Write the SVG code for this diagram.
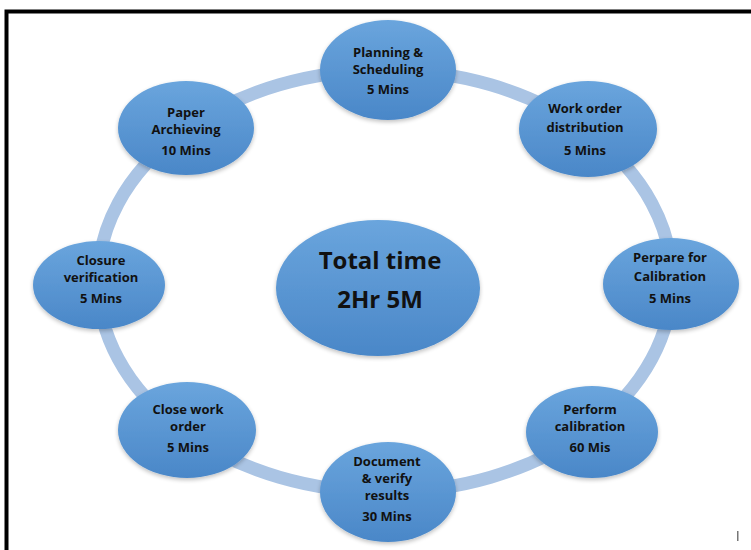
<svg xmlns="http://www.w3.org/2000/svg" width="751" height="550" viewBox="0 0 751 550">
<defs>
<linearGradient id="g" x1="0" y1="0" x2="0" y2="1">
<stop offset="0" stop-color="#6aa5dd"/>
<stop offset="1" stop-color="#4a87c8"/>
</linearGradient>
<filter id="sh" x="-20%" y="-20%" width="140%" height="150%">
<feGaussianBlur in="SourceAlpha" stdDeviation="2"/>
<feOffset dy="2"/>
<feComponentTransfer><feFuncA type="linear" slope="0.25"/></feComponentTransfer>
<feMerge><feMergeNode/><feMergeNode in="SourceGraphic"/></feMerge>
</filter>
</defs>
<style>
.n{fill:url(#g);filter:url(#sh)}
.t{font-family:"Open Sans","Liberation Sans",sans-serif;font-weight:bold;font-size:13px;fill:#111;text-anchor:middle}
.c{font-size:24px}
.ring{fill:none;stroke:#aac4e4;stroke-width:13}
</style>
<rect width="751" height="550" fill="#fff"/>
<path d="M6.5 550 V11.5 H751" fill="none" stroke="#000" stroke-width="4"/>
<g id="connectors">
<ellipse class="ring" cx="385" cy="281" rx="287" ry="211"/>
</g>
<g id="planning">
<ellipse class="n" cx="388" cy="70" rx="68" ry="50"/>
<text class="t" x="388" y="57">Planning &amp;</text>
<text class="t" x="388" y="74">Scheduling</text>
<text class="t" x="388" y="94">5 Mins</text>
</g>
<g id="workorder">
<ellipse class="n" cx="588" cy="129" rx="69" ry="48"/>
<text class="t" x="585" y="113">Work order</text>
<text class="t" x="585" y="132">distribution</text>
<text class="t" x="585" y="155">5 Mins</text>
</g>
<g id="prepare">
<ellipse class="n" cx="671" cy="284" rx="68" ry="46"/>
<text class="t" x="670" y="262">Perpare for</text>
<text class="t" x="670" y="281">Calibration</text>
<text class="t" x="670" y="303">5 Mins</text>
</g>
<g id="perform">
<ellipse class="n" cx="592" cy="432" rx="66" ry="46"/>
<text class="t" x="590" y="414">Perform</text>
<text class="t" x="590" y="431">calibration</text>
<text class="t" x="590" y="452">60 Mis</text>
</g>
<g id="document">
<ellipse class="n" cx="388" cy="492" rx="68" ry="50"/>
<text class="t" x="387" y="466">Document</text>
<text class="t" x="387" y="483">&amp; verify</text>
<text class="t" x="387" y="500">results</text>
<text class="t" x="387" y="521">30 Mins</text>
</g>
<g id="closework">
<ellipse class="n" cx="187" cy="430" rx="69" ry="48"/>
<text class="t" x="188" y="414">Close work</text>
<text class="t" x="188" y="431">order</text>
<text class="t" x="188" y="452">5 Mins</text>
</g>
<g id="closure">
<ellipse class="n" cx="99" cy="285" rx="66" ry="44"/>
<text class="t" x="101" y="265">Closure</text>
<text class="t" x="101" y="282">verification</text>
<text class="t" x="101" y="303">5 Mins</text>
</g>
<g id="paper">
<ellipse class="n" cx="186" cy="128" rx="68" ry="47"/>
<text class="t" x="186" y="117">Paper</text>
<text class="t" x="186" y="134">Archieving</text>
<text class="t" x="186" y="155">10 Mins</text>
</g>
<g id="total">
<ellipse class="n" cx="378" cy="288" rx="102" ry="68"/>
<text class="t c" x="380" y="269">Total time</text>
<text class="t c" x="380" y="308">2Hr 5M</text>
</g>
<rect x="737" y="531" width="1.5" height="10" fill="#777"/>
</svg>
